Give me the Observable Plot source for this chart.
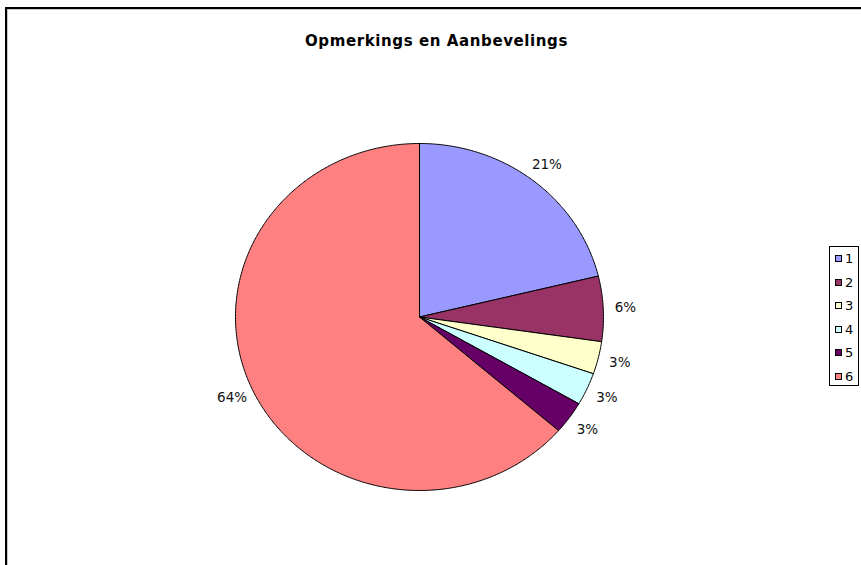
<!DOCTYPE html>
<html>
<head>
<meta charset="utf-8">
<script src="https://cdn.jsdelivr.net/npm/d3@7"></script>
<script src="https://cdn.jsdelivr.net/npm/@observablehq/plot@0.6"></script>
<style>
  html, body { margin: 0; padding: 0; background: #fff; }
  #wrap { position: relative; width: 861px; height: 565px; overflow: hidden; font-family: "DejaVu Sans", Verdana, sans-serif; }
  #frame { position: absolute; left: 5px; top: 7px; width: 900px; height: 600px; border-left: 2px solid #000; border-top: 2px solid #000; box-shadow: inset 1px 1px 0 #c8c8c8; }
  #title { position: absolute; top: 32px; left: 436.5px; transform: translateX(-50%); font-weight: bold; font-size: 15px; letter-spacing: 0.6px; white-space: nowrap; color: #000; }
  #chart { position: absolute; left: 0; top: 0; }
  #legend { position: absolute; left: 829px; top: 246px; width: 30px; height: 140px; border: 1px solid #000; background: #fff; box-sizing: border-box; }
  .item { position: absolute; left: 5px; height: 14px; font-size: 13px; line-height: 14px; color: #000; }
  .sw { display: inline-block; width: 5px; height: 5px; border: 1px solid #000; vertical-align: 1px; margin-right: 3px; }
</style>
</head>
<body>
<div id="wrap">
  <div id="frame"></div>
  <div id="chart"></div>
  <div id="title">Opmerkings en Aanbevelings</div>
  <div id="legend"></div>
</div>
<script>
const categories = ["1", "2", "3", "4", "5", "6"];
const counts = [7, 2, 1, 1, 1, 21];
const percentLabels = ["21%", "6%", "3%", "3%", "3%", "64%"];
const colors = ["#9999FF", "#993366", "#FFFFCC", "#CCFFFF", "#660066", "#FF8080"];

const total = d3.sum(counts);
let acc = 0;
const slices = categories.map((c, i) => {
  const a0 = acc / total * 2 * Math.PI;
  acc += counts[i];
  const a1 = acc / total * 2 * Math.PI;
  return {category: c, a0, a1, color: colors[i], label: percentLabels[i]};
});

function slicePoints(s) {
  const pts = [{x: 0, y: 0}];
  const n = Math.max(2, Math.ceil((s.a1 - s.a0) / (Math.PI / 360)));
  for (let k = 0; k <= n; k++) {
    const a = s.a0 + (s.a1 - s.a0) * k / n;
    pts.push({x: Math.sin(a), y: Math.cos(a)});
  }
  pts.push({x: 0, y: 0});
  return pts;
}

const labelData = slices.map(s => {
  const m = (s.a0 + s.a1) / 2;
  const k = 1.12;
  return {x: k * Math.sin(m), y: k * Math.cos(m), text: s.label};
});

const marks = slices.map(s => Plot.line(slicePoints(s), {
  x: "x", y: "y", fill: s.color, stroke: "#000", strokeWidth: 1, curve: "linear"
}));
marks.push(Plot.text(labelData, {
  x: "x", y: "y", text: "text", fontSize: 13.5, fill: "#111",
  fontFamily: "DejaVu Sans, Verdana, sans-serif"
}));

const chart = Plot.plot({
  width: 861,
  height: 565,
  margin: 0,
  style: {background: "transparent", overflow: "visible"},
  x: {domain: [-1, 1], range: [235, 603], axis: null},
  y: {domain: [-1, 1], range: [490, 143], axis: null},
  marks
});
document.getElementById("chart").appendChild(chart);

const legend = document.getElementById("legend");
categories.forEach((c, i) => {
  const row = document.createElement("div");
  row.className = "item";
  row.style.top = (5 + i * 23.5) + "px";
  const sw = document.createElement("span");
  sw.className = "sw";
  sw.style.background = colors[i];
  row.appendChild(sw);
  row.appendChild(document.createTextNode(c));
  legend.appendChild(row);
});
</script>
</body>
</html>
